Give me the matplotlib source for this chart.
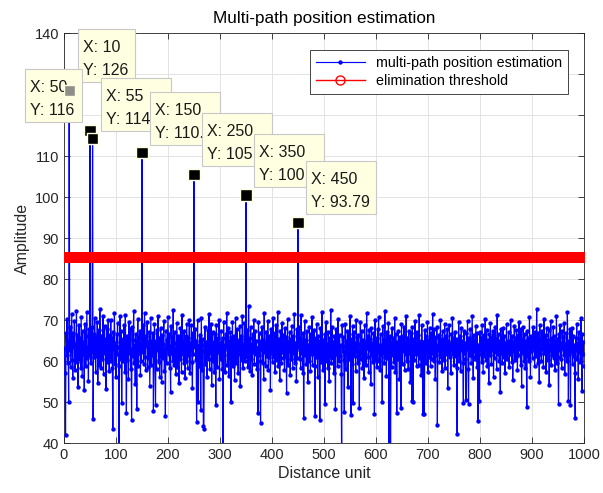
import numpy as np
import matplotlib.pyplot as plt
from matplotlib.patches import Rectangle
from matplotlib.transforms import Affine2D

plt.rcParams['font.family'] = ['Liberation Sans', 'DejaVu Sans']

# amplitude at each distance unit 1..1000 (approx.)
amplitude = [
    63.2, 57.1, 42.0, 66.8, 61.5, 70.2, 59.4, 64.9, 50.0, 126.0,
    62.7, 68.3, 58.6, 65.1, 71.4, 60.2, 55.8, 66.9, 63.4, 69.7,
    57.9, 64.2, 61.1, 72.3, 59.8, 66.4, 53.6, 62.8, 68.9, 60.5,
    65.7, 58.2, 70.8, 63.9, 56.4, 67.2, 61.8, 64.6, 52.9, 69.1,
    62.3, 58.9, 66.1, 71.9, 60.7, 63.5, 55.2, 67.8, 61.4, 116.3,
    64.3, 59.6, 68.2, 62.1, 114.2, 45.8, 66.7, 60.9, 70.5, 63.1,
    57.4, 65.9, 61.2, 69.4, 54.7, 63.8, 67.5, 59.1, 72.8, 62.6,
    58.3, 66.2, 64.1, 60.4, 71.1, 56.9, 63.7, 68.6, 61.9, 65.3,
    53.2, 67.9, 62.4, 59.7, 70.1, 64.8, 57.6, 66.3, 61.0, 69.9,
    60.1, 65.6, 58.4, 43.5, 67.1, 62.9, 71.6, 59.3, 64.4, 56.1,
    66.6, 61.7, 69.2, 63.3, 58.7, 35.0, 64.7, 70.9, 60.6, 67.4,
    49.8, 62.2, 65.4, 59.9, 68.7, 63.6, 57.2, 71.3, 61.6, 47.3,
    66.0, 60.3, 64.5, 55.5, 69.6, 62.0, 67.7, 58.1, 63.0, 45.5,
    68.4, 61.3, 65.2, 72.1, 59.5, 64.0, 54.3, 66.5, 62.5, 48.3,
    63.9, 70.3, 58.8, 65.8, 61.9, 67.3, 56.6, 64.2, 60.0, 110.8,
    62.1, 68.8, 59.2, 65.5, 71.7, 61.0, 57.7, 66.2, 63.7, 69.5,
    58.5, 64.6, 60.8, 67.0, 53.9, 62.4, 70.6, 59.0, 65.0, 61.5,
    66.9, 47.7, 63.1, 69.0, 60.2, 49.2, 64.9, 58.0, 67.6, 62.7,
    71.0, 59.7, 65.7, 56.2, 63.5, 68.1, 61.2, 55.0, 66.4, 60.7,
    64.1, 69.8, 57.5, 62.9, 46.7, 67.2, 63.3, 59.4, 65.1, 70.7,
    61.8, 66.6, 58.3, 63.6, 52.4, 68.5, 62.0, 65.9, 60.1, 72.5,
    59.1, 64.4, 67.1, 61.1, 56.8, 63.0, 69.3, 58.6, 66.0, 62.3,
    54.6, 65.3, 60.5, 68.0, 63.8, 57.3, 71.2, 61.7, 64.8, 59.6,
    67.4, 62.6, 55.9, 66.1, 60.0, 69.1, 63.2, 58.2, 65.6, 61.4,
    70.0, 57.0, 64.3, 62.8, 68.7, 59.8, 53.4, 66.8, 61.6, 105.6,
    63.4, 67.7, 60.3, 65.0, 45.2, 62.2, 69.9, 50.0, 64.0, 58.9,
    66.3, 61.3, 48.0, 70.4, 63.9, 57.8, 65.4, 44.2, 43.5, 62.5,
    68.2, 59.3, 64.7, 61.0, 56.0, 67.5, 63.1, 60.6, 71.5, 58.0,
    65.2, 62.0, 69.0, 54.1, 63.6, 67.0, 60.0, 64.6, 57.4, 66.7,
    61.9, 49.3, 68.9, 63.0, 58.5, 65.7, 62.1, 70.1, 55.6, 64.3,
    60.4, 67.3, 62.9, 58.1, 65.5, 36.0, 69.4, 61.5, 64.0, 57.2,
    66.5, 63.5, 71.8, 59.0, 62.7, 68.0, 56.3, 64.9, 60.8, 67.0,
    50.0, 65.8, 61.2, 69.6, 58.7, 63.3, 66.1, 55.3, 62.4, 70.5,
    59.6, 64.5, 67.9, 61.6, 57.0, 65.1, 62.8, 68.6, 54.0, 63.8,
    66.0, 60.2, 71.1, 58.4, 64.1, 62.0, 69.2, 59.9, 65.3, 100.5,
    61.0, 67.6, 63.7, 58.6, 73.4, 62.5, 65.6, 57.5, 68.3, 60.5,
    64.2, 56.5, 66.6, 62.3, 70.0, 59.2, 63.4, 67.2, 61.8, 65.0,
    58.0, 63.1, 47.3, 69.5, 61.4, 66.9, 60.0, 45.0, 64.8, 62.6,
    68.4, 59.5, 65.2, 55.7, 71.6, 62.1, 64.4, 58.8, 67.0, 61.2,
    63.6, 69.8, 57.9, 66.2, 60.9, 64.6, 53.0, 67.8, 62.0, 65.9,
    59.7, 70.6, 63.2, 61.1, 66.8, 57.3, 64.1, 68.9, 60.3, 62.8,
    72.0, 58.9, 65.4, 61.7, 55.4, 67.4, 63.0, 59.4, 69.3, 62.2,
    66.4, 60.7, 64.3, 57.8, 68.1, 61.3, 65.8, 52.2, 63.5, 70.2,
    59.1, 64.9, 62.4, 67.1, 56.7, 65.3, 60.4, 68.6, 63.9, 58.3,
    66.2, 61.9, 71.4, 59.6, 64.5, 62.7, 55.1, 67.7, 60.8, 93.79,
    63.3, 68.4, 60.6, 65.7, 58.2, 71.3, 62.0, 64.7, 57.0, 66.9,
    46.0, 63.7, 69.7, 61.4, 65.1, 59.3, 67.3, 62.6, 54.8, 64.0,
    60.1, 68.2, 63.0, 57.6, 66.5, 61.8, 70.8, 59.0, 64.4, 62.3,
    67.5, 58.7, 46.7, 65.6, 61.0, 69.0, 63.6, 56.1, 66.0, 60.9,
    64.8, 45.7, 68.0, 62.1, 59.8, 71.9, 63.1, 57.7, 65.2, 61.5,
    66.7, 49.6, 63.9, 69.4, 60.0, 64.2, 58.4, 67.0, 62.9, 55.2,
    65.5, 61.1, 72.4, 59.5, 63.4, 68.3, 60.7, 64.6, 57.1, 66.1,
    62.0, 48.3, 67.9, 61.6, 65.0, 58.8, 70.3, 63.2, 59.9, 66.4,
    61.3, 64.0, 56.9, 34.0, 68.8, 62.4, 65.9, 60.2, 47.5, 63.7,
    69.1, 58.1, 64.9, 61.9, 67.2, 53.7, 63.0, 66.6, 60.6, 71.0,
    62.7, 46.8, 65.3, 59.2, 68.5, 49.8, 63.5, 67.0, 61.2, 64.4,
    57.6, 70.0, 62.2, 65.8, 59.6, 66.3, 61.0, 48.5, 64.1, 69.6,
    60.4, 63.8, 67.4, 58.3, 65.1, 62.5, 55.8, 68.7, 61.7, 64.7,
    59.0, 71.7, 63.1, 66.0, 60.9, 57.4, 67.6, 62.8, 65.4, 54.4,
    68.1, 61.4, 64.3, 59.7, 66.8, 62.6, 47.0, 69.9, 63.6, 60.3,
    65.6, 58.6, 67.8, 62.1, 70.7, 60.0, 64.0, 57.9, 66.5, 61.8,
    63.9, 50.0, 68.6, 62.3, 65.2, 59.4, 72.2, 61.1, 64.8, 56.4,
    67.1, 60.8, 63.3, 69.3, 33.0, 62.7, 66.2, 37.0, 64.5, 58.5,
    68.0, 61.5, 65.7, 59.8, 63.0, 70.4, 57.2, 66.7, 62.0, 47.3,
    64.6, 60.5, 67.3, 62.9, 55.5, 65.9, 61.2, 48.5, 69.0, 63.4,
    59.3, 66.0, 62.4, 68.2, 57.8, 64.3, 61.6, 70.9, 60.1, 65.5,
    63.1, 58.0, 67.4, 61.9, 64.9, 54.9, 66.8, 62.5, 50.3, 68.4,
    50.0, 63.8, 65.3, 60.2, 69.7, 61.7, 64.2, 58.9, 67.0, 62.1,
    66.3, 59.1, 71.2, 63.5, 60.7, 65.0, 56.6, 68.8, 62.6, 47.0,
    64.7, 61.3, 47.0, 67.5, 63.0, 59.5, 66.1, 62.2, 69.4, 57.3,
    65.1, 61.0, 68.0, 63.6, 58.7, 66.9, 60.6, 64.4, 71.5, 62.0,
    59.9, 67.7, 63.2, 55.7, 65.8, 61.4, 68.3, 44.5, 64.0, 62.8,
    66.4, 59.7, 63.9, 70.1, 61.1, 65.4, 57.5, 67.2, 62.3, 64.6,
    60.3, 69.1, 58.2, 66.0, 63.4, 61.8, 67.9, 53.3, 65.0, 62.5,
    68.7, 60.9, 64.1, 57.1, 66.6, 63.0, 70.6, 61.6, 65.7, 59.0,
    63.7, 67.0, 61.3, 65.3, 58.4, 42.3, 64.8, 62.0, 69.5, 60.0,
    66.1, 63.5, 57.6, 68.1, 62.7, 65.0, 59.6, 49.8, 67.3, 61.9,
    64.3, 60.4, 50.5, 66.8, 62.9, 69.8, 58.1, 49.5, 65.6, 61.5,
    67.8, 63.3, 59.4, 64.7, 71.0, 61.0, 55.9, 66.3, 62.4, 65.2,
    60.6, 68.5, 63.8, 58.5, 66.9, 45.3, 64.0, 61.7, 50.3, 67.1,
    62.6, 65.5, 59.8, 68.9, 63.1, 57.3, 66.4, 61.2, 64.6, 70.3,
    60.2, 63.6, 67.6, 58.8, 65.1, 62.1, 54.7, 66.7, 61.4, 69.2,
    63.0, 59.2, 65.9, 62.8, 67.4, 56.2, 64.2, 60.8, 68.3, 62.2,
    65.4, 58.0, 71.3, 61.6, 63.9, 66.5, 60.0, 64.9, 52.5, 67.7,
    62.0, 65.8, 59.5, 68.0, 63.4, 61.1, 66.2, 57.0, 64.5, 62.7,
    69.0, 60.5, 65.0, 62.3, 67.1, 58.6, 64.1, 61.8, 70.0, 63.3,
    59.7, 66.0, 55.3, 64.7, 62.5, 68.6, 60.3, 65.6, 61.0, 67.5,
    63.6, 57.7, 66.3, 61.5, 69.4, 62.9, 64.3, 59.0, 67.9, 53.8,
    65.2, 61.9, 68.2, 63.1, 60.1, 66.6, 58.3, 64.8, 62.1, 48.8,
    67.3, 61.2, 65.5, 59.9, 70.8, 63.8, 56.0, 66.1, 62.4, 64.5,
    60.7, 68.4, 63.0, 65.9, 58.9, 67.0, 61.3, 64.0, 72.6, 62.2,
    59.4, 66.8, 63.5, 55.0, 68.8, 61.7, 65.3, 60.0, 67.2, 62.9,
    64.6, 58.5, 70.2, 61.9, 63.3, 66.4, 57.4, 68.0, 62.0, 65.1,
    60.3, 67.6, 54.2, 64.2, 62.6, 69.7, 59.1, 65.7, 61.4, 63.7,
    68.3, 60.8, 66.0, 57.9, 64.8, 62.1, 71.1, 59.6, 65.4, 61.0,
    49.5, 66.7, 62.8, 68.7, 60.4, 64.4, 58.2, 67.4, 63.2, 65.8,
    61.5, 69.3, 56.8, 64.1, 62.4, 66.9, 60.1, 71.9, 63.6, 50.3,
    65.0, 61.8, 67.8, 49.3, 64.9, 62.5, 68.1, 59.3, 66.2, 61.2,
    63.9, 57.1, 46.0, 65.6, 62.7, 69.0, 60.6, 64.3, 55.6, 67.0,
    62.1, 65.3, 59.8, 70.5, 63.4, 52.8, 66.5, 61.6, 64.7, 58.7,
]
distance = np.arange(1, len(amplitude) + 1)

threshold = 85.3

# data tips shown on the figure
tip_x = [10, 50, 55, 150, 250, 350, 450]
tip_y = [126, 116.3, 114.2, 110.8, 105.6, 100.5, 93.79]
tip_xtext = ['X: 10', 'X: 50', 'X: 55', 'X: 150', 'X: 250', 'X: 350', 'X: 450']
tip_ytext = ['Y: 126', 'Y: 116', 'Y: 114.2', 'Y: 110.8', 'Y: 105.6', 'Y: 100.5', 'Y: 93.79']
tip_left = [8.5, -65, 8.5, 8.5, 8.5, 8.5, 8.5]   # box left edge, pixels from the point
tip_width = [57, 57, 70, 70, 70, 70, 70]
tip_color = ['#8f8f88', 'black', 'black', 'black', 'black', 'black', 'black']

fig = plt.figure(figsize=(6.03, 4.93), dpi=100)
ax = fig.add_axes([0.1061, 0.1014, 0.8624, 0.8316])

ax.plot(distance, amplitude, '.-', color='blue', lw=0.85, ms=4.3,
        label='multi-path position estimation', zorder=3)
ax.plot(distance, np.full(len(distance), threshold), '-o', color='red', lw=1,
        ms=6.5, mfc='none', mew=1, label='elimination threshold', zorder=4)

ax.set_xlim(0, 1000)
ax.set_ylim(40, 140)

for i in range(len(tip_x)):
    px, py = ax.transData.transform((tip_x[i], tip_y[i]))
    box = Rectangle((tip_left[i], 8), tip_width[i], 53,
                    transform=Affine2D().translate(px, py), clip_on=False,
                    fc='#ffffe1', ec='#c8c8c8', lw=0.8, zorder=6 + 2 * i)
    ax.add_patch(box)
    for txt, dy in [(tip_xtext[i], 38), (tip_ytext[i], 15)]:
        ax.annotate(txt, xy=(tip_x[i], tip_y[i]), xytext=(tip_left[i] + 5, dy),
                    textcoords='offset pixels', ha='left', va='baseline',
                    fontsize=11.5, color='#1a1a1a', zorder=6.5 + 2 * i,
                    annotation_clip=False)

ax.scatter(tip_x, tip_y, marker='s', s=64, c=tip_color, edgecolors='#ffffe1',
           linewidths=1, zorder=30)

ax.set_xticks(np.arange(0, 1001, 100))
ax.set_yticks(np.arange(40, 141, 10))
ax.grid(True, color='#dedede', lw=0.6)
ax.set_axisbelow(True)
ax.tick_params(direction='in', top=True, right=True, length=4, width=0.6,
               labelsize=10.5, colors='#262626')
for s in ax.spines.values():
    s.set_color('#262626')
    s.set_linewidth(0.6)

ax.set_title('Multi-path position estimation', fontsize=12.3, color='black', pad=7)
ax.set_xlabel('Distance unit', fontsize=11.5, color='#262626', labelpad=3)
ax.set_ylabel('Amplitude', fontsize=11.5, color='#262626', labelpad=3)

leg = ax.legend(loc='upper right', bbox_to_anchor=(1 - 16 / 520, 1 - 17 / 410),
                borderaxespad=0, fontsize=10.3, handlelength=3.4, fancybox=False,
                framealpha=1, edgecolor='#262626', borderpad=0.4, labelspacing=0.3)
leg.get_frame().set_linewidth(0.6)
leg.set_zorder(40)

fig.savefig('out.png', dpi=100)
